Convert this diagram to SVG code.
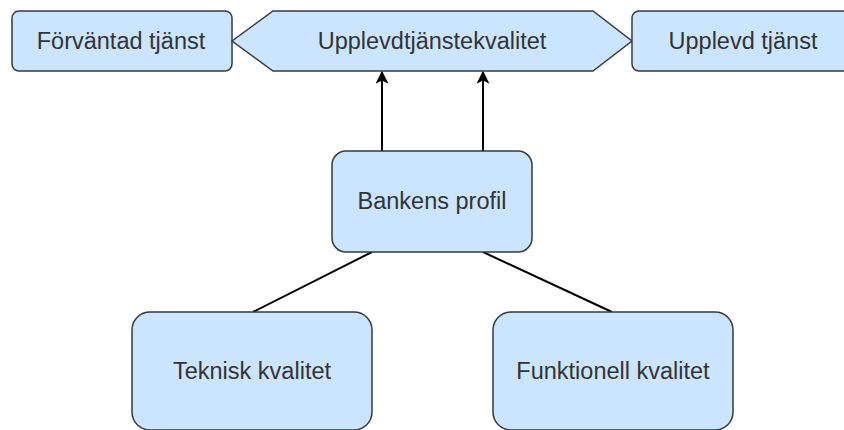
<svg xmlns="http://www.w3.org/2000/svg" width="844" height="430" viewBox="0 0 844 430">
<defs>
<style>
.box{fill:#cce5ff;stroke:#36393d;stroke-width:1.5}
.lbl{font-family:"Liberation Sans",Arial,sans-serif;font-size:23.5px;fill:#333333;text-anchor:middle;dominant-baseline:central}
.edge{fill:none;stroke:#000000;stroke-width:2}
</style>
<marker id="arr" viewBox="0 0 10 10" refX="9" refY="5" markerWidth="6.5" markerHeight="6.5" orient="auto" markerUnits="strokeWidth">
<path d="M0,0 L10,5 L0,10 L2.5,5 Z" fill="#000"/>
</marker>
</defs>
<rect width="844" height="430" fill="#ffffff"/>
<g id="connectors">
<line class="edge" x1="382" y1="151" x2="382" y2="72" marker-end="url(#arr)"/>
<line class="edge" x1="483" y1="151" x2="483" y2="72" marker-end="url(#arr)"/>
<line class="edge" x1="372" y1="252" x2="253" y2="312"/>
<line class="edge" x1="483" y1="252" x2="612" y2="312"/>
</g>
<g id="forvantad">
<rect class="box" x="12" y="11" width="220" height="60" rx="7"/>
<text class="lbl" x="121" y="41">Förväntad tjänst</text>
</g>
<g id="upplevdtjanstekvalitet">
<polygon class="box" points="232,41 273,11 593,11 632,41 593,71 273,71"/>
<text class="lbl" x="432" y="41">Upplevdtjänstekvalitet</text>
</g>
<g id="upplevd">
<rect class="box" x="632" y="11" width="222" height="60" rx="7"/>
<text class="lbl" x="743" y="41">Upplevd tjänst</text>
</g>
<g id="bankens">
<rect class="box" x="332" y="151" width="200" height="101" rx="14"/>
<text class="lbl" x="432" y="201">Bankens profil</text>
</g>
<g id="teknisk">
<rect class="box" x="132" y="312" width="240" height="118" rx="18"/>
<text class="lbl" x="252" y="371">Teknisk kvalitet</text>
</g>
<g id="funktionell">
<rect class="box" x="493" y="312" width="240" height="118" rx="18"/>
<text class="lbl" x="613" y="371">Funktionell kvalitet</text>
</g>
</svg>
